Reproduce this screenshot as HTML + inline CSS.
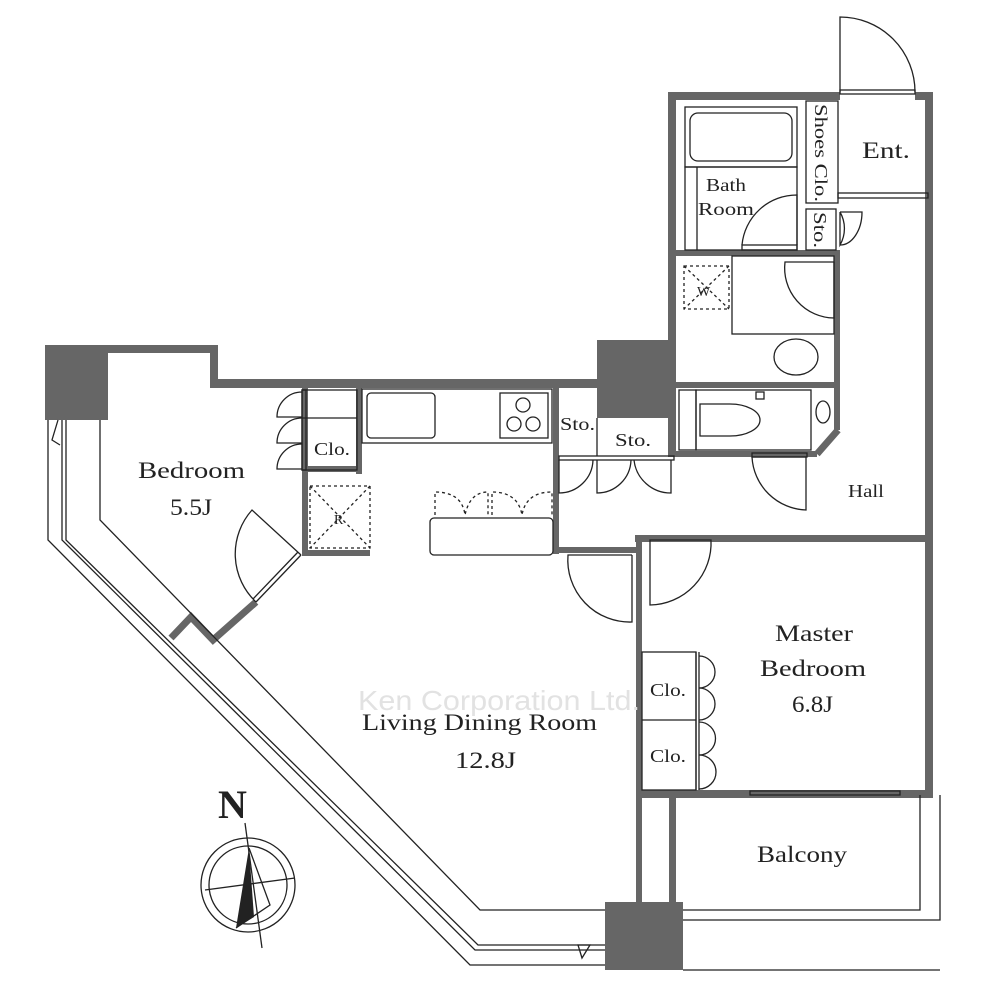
<!DOCTYPE html>
<html><head><meta charset="utf-8"><style>
html,body{margin:0;padding:0;background:#fff;width:1000px;height:1000px;overflow:hidden}
svg text{font-family:"Liberation Serif",serif;fill:#222}
</style></head><body>
<svg width="1000" height="1000" viewBox="0 0 1000 1000" xmlns="http://www.w3.org/2000/svg">
<g fill="#666" stroke="none">
<rect x="45" y="345" width="63" height="75"/>
<rect x="597" y="340" width="78" height="78"/>
<rect x="605" y="902" width="78" height="68"/>
<rect x="108" y="345" width="110" height="8"/>
<rect x="210" y="345" width="8" height="42"/>
<rect x="210" y="379" width="390" height="9"/>
<rect x="668" y="92" width="8" height="365"/>
<rect x="668" y="92" width="172" height="8"/>
<rect x="915" y="92" width="18" height="8"/>
<rect x="925" y="92" width="8" height="706"/>
<rect x="672" y="250" width="168" height="6"/>
<rect x="672" y="382" width="168" height="6"/>
<rect x="834" y="250" width="6" height="180"/>
<rect x="672" y="451" width="145" height="6"/>
<rect x="635" y="535" width="298" height="7"/>
<rect x="636" y="535" width="6" height="370"/>
<rect x="640" y="790" width="293" height="8"/>
<rect x="669" y="790" width="7" height="115"/>
<rect x="553" y="384" width="6" height="170"/>
<rect x="553" y="547" width="87" height="6"/>
<rect x="302" y="384" width="6" height="172"/>
<rect x="302" y="550" width="68" height="6"/>
<rect x="356" y="384" width="6" height="90"/>
<rect x="302" y="466" width="60" height="6"/>
</g>
<g fill="none" stroke="#666" stroke-width="7">
<polyline points="817,454 838,430"/>
<polyline points="256,602 213,640 191,617 171,638"/>
</g>
<g fill="none" stroke="#222" stroke-width="1.3">
<polyline points="48,420 48,540 470,965 605,965"/>
<polyline points="62,420 62,540 475,950 605,950"/>
<polyline points="66,420 66,540 478,945 605,945"/>
<polyline points="100,420 100,520 480,910 605,910"/>
<polyline points="683,910 920,910 920,795"/>
<polyline points="683,920 940,920 940,795"/>
<line x1="683" y1="970" x2="940" y2="970"/>
<path d="M58,420 L52,440 L60,445"/>
<path d="M578,945 L590,945 L582,958 Z"/>
<path d="M840,92 L840,17 A75,75 0 0 1 915,92"/>
<rect x="840" y="90" width="75" height="4"/>
<rect x="838" y="193" width="90" height="5"/>
<rect x="806" y="101" width="32" height="102"/>
<rect x="806" y="209" width="30" height="41"/>
<path d="M840,212 L840,245 A33,33 0 0 0 840,212 M840,212 L862,212 A22,33 0 0 1 840,245"/>
<rect x="685" y="107" width="112" height="60"/>
<rect x="690" y="113" width="102" height="48" rx="8"/>
<rect x="685" y="167" width="112" height="83"/>
<line x1="697" y1="167" x2="697" y2="250"/>
<path d="M797,245 L797,195 A55,55 0 0 0 742,245"/>
<rect x="742" y="245" width="55" height="5"/>
<rect x="732" y="256" width="102" height="78"/>
<path d="M834,262 L834,318 A50,50 0 0 1 785,262 L834,262"/>
<ellipse cx="796" cy="357" rx="22" ry="18"/>
<rect x="684" y="266" width="45" height="43" stroke-dasharray="3,3"/>
<line x1="684" y1="266" x2="729" y2="309" stroke-dasharray="3,3"/>
<line x1="729" y1="266" x2="684" y2="309" stroke-dasharray="3,3"/>
<rect x="679" y="390" width="17" height="60"/>
<rect x="696" y="390" width="115" height="60"/>
<path d="M700,404 L730,404 A30,16 0 0 1 730,436 L700,436 Z"/>
<rect x="756" y="392" width="8" height="7"/>
<ellipse cx="823" cy="412" rx="7" ry="11"/>
<path d="M752,457 L806,457 L806,510 A56,56 0 0 1 752,457"/>
<rect x="752" y="453" width="55" height="4"/>
<rect x="559" y="456" width="115" height="4"/>
<line x1="597" y1="418" x2="597" y2="456"/>
<path d="M559,460 L559,493 A34,34 0 0 0 593,460"/>
<path d="M597,460 L597,493 A34,34 0 0 0 631,460"/>
<path d="M671,460 L671,493 A37,37 0 0 1 634,460"/>
<rect x="362" y="389" width="190" height="54"/>
<rect x="367" y="393" width="68" height="45" rx="4"/>
<rect x="500" y="393" width="48" height="45"/>
<circle cx="523" cy="405" r="7"/><circle cx="514" cy="424" r="7"/><circle cx="533" cy="424" r="7"/>
<rect x="430" y="518" width="123" height="37" rx="4"/>
<path d="M435,515 L435,492 Q462,492 465,515 Q470,492 488,492 L488,515 M492,515 L492,492 Q518,492 522,515 Q526,492 552,492 L552,515" stroke-dasharray="3,3"/>
<rect x="310" y="486" width="60" height="62" stroke-dasharray="3,3"/>
<line x1="310" y1="486" x2="370" y2="548" stroke-dasharray="3,3"/>
<line x1="370" y1="486" x2="310" y2="548" stroke-dasharray="3,3"/>
<rect x="302" y="390" width="55" height="80"/>
<line x1="302" y1="418" x2="357" y2="418"/>
<rect x="302" y="390" width="4" height="80"/>
<path d="M302,392 A25,25 0 0 0 277,417 L302,417"/>
<path d="M302,418 A25,25 0 0 0 277,443 L302,443"/>
<path d="M302,444 A25,25 0 0 0 277,469 L302,469"/>
<!-- bedroom door -->
<line x1="301" y1="555" x2="256" y2="602"/>
<line x1="298" y1="552" x2="253" y2="599"/>
<path d="M301,555 L252,510 A66,66 0 0 0 256,602"/>
<path d="M632,555 L632,622 A62,62 0 0 1 568,555 L632,555"/>
<path d="M650,540 L711,540 A62,62 0 0 1 650,605 Z"/>
<rect x="642" y="652" width="54" height="138"/>
<line x1="642" y1="720" x2="696" y2="720"/>
<line x1="696" y1="652" x2="696" y2="790"/>
<line x1="699" y1="652" x2="699" y2="790"/>
<path d="M699,656 A16,16 0 0 1 699,688 A16,16 0 0 1 699,720"/>
<path d="M699,722 A16,16 0 0 1 699,755 A16,16 0 0 1 699,789"/>
<rect x="750" y="791" width="150" height="4"/>
<circle cx="248" cy="885" r="47"/>
<circle cx="248" cy="885" r="39"/>
<line x1="245" y1="823" x2="262" y2="948"/>
<line x1="205" y1="890" x2="295" y2="878"/>
</g>
<path d="M249,848 L254,917 L236,928 Z" fill="#222"/>
<path d="M249,848 L270,905 L236,928" fill="none" stroke="#222" stroke-width="1.3"/>
<text x="218" y="818" font-size="40" font-weight="bold">N</text>
<text x="358" y="710" font-size="28" font-family="Liberation Sans" style="font-family:'Liberation Sans',sans-serif;fill:#e2e2e2" textLength="282" lengthAdjust="spacingAndGlyphs">Ken Corporation Ltd.</text>
<g font-size="23">
<text x="138" y="478" textLength="107" lengthAdjust="spacingAndGlyphs">Bedroom</text>
<text x="170" y="515" textLength="42" lengthAdjust="spacingAndGlyphs">5.5J</text>
<text x="362" y="730" textLength="235" lengthAdjust="spacingAndGlyphs">Living Dining Room</text>
<text x="455" y="768" textLength="61" lengthAdjust="spacingAndGlyphs">12.8J</text>
<text x="775" y="641" textLength="78" lengthAdjust="spacingAndGlyphs">Master</text>
<text x="760" y="676" textLength="106" lengthAdjust="spacingAndGlyphs">Bedroom</text>
<text x="792" y="712" textLength="41" lengthAdjust="spacingAndGlyphs">6.8J</text>
<text x="757" y="862" textLength="90" lengthAdjust="spacingAndGlyphs">Balcony</text>
<text x="862" y="158" textLength="48" lengthAdjust="spacingAndGlyphs">Ent.</text>
</g>
<g font-size="18">
<text x="314" y="455" textLength="36" lengthAdjust="spacingAndGlyphs">Clo.</text>
<text x="650" y="696" textLength="36" lengthAdjust="spacingAndGlyphs">Clo.</text>
<text x="650" y="762" textLength="36" lengthAdjust="spacingAndGlyphs">Clo.</text>
<text x="560" y="430" textLength="35" lengthAdjust="spacingAndGlyphs">Sto.</text>
<text x="615" y="446" textLength="36" lengthAdjust="spacingAndGlyphs">Sto.</text>
<text x="848" y="497" textLength="36" lengthAdjust="spacingAndGlyphs">Hall</text>
<text x="706" y="191" textLength="40" lengthAdjust="spacingAndGlyphs">Bath</text>
<text x="698" y="215" textLength="56" lengthAdjust="spacingAndGlyphs">Room</text>
<text x="815" y="104" transform="rotate(90 815 104)" textLength="98" lengthAdjust="spacingAndGlyphs">Shoes Clo.</text>
<text x="814" y="212" transform="rotate(90 814 212)" textLength="36" lengthAdjust="spacingAndGlyphs">Sto.</text>
<text x="697" y="296" font-size="14">W</text>
<text x="334" y="524" font-size="14">R</text>
</g>
</svg>
</body></html>
